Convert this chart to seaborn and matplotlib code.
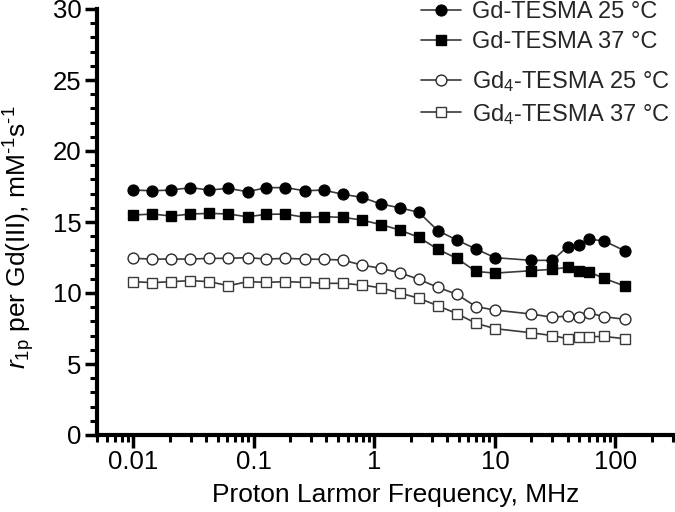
import matplotlib
matplotlib.use('Agg')
import matplotlib.pyplot as plt
import seaborn as sns
from matplotlib.ticker import FixedLocator, FixedFormatter, LogLocator, MultipleLocator, NullFormatter

# Proton Larmor frequency (MHz)
freq = [0.01, 0.0144, 0.0207, 0.0298, 0.0428, 0.0616, 0.0886, 0.127, 0.183,
        0.264, 0.379, 0.546, 0.785, 1.13, 1.62, 2.34, 3.36, 4.83, 6.95, 10,
        20, 30, 40, 50, 60, 80, 120]

gd_25 = [17.25, 17.2, 17.25, 17.42, 17.25, 17.37, 17.13, 17.42, 17.42, 17.2,
         17.25, 16.95, 16.74, 16.27, 16.0, 15.68, 14.39, 13.73, 13.1, 12.49,
         12.3, 12.3, 13.26, 13.38, 13.78, 13.68, 12.96]
gd_37 = [15.49, 15.56, 15.42, 15.56, 15.61, 15.56, 15.37, 15.54, 15.56, 15.33,
         15.37, 15.33, 15.14, 14.82, 14.44, 13.92, 13.08, 12.44, 11.52, 11.4,
         11.57, 11.67, 11.81, 11.57, 11.5, 11.03, 10.49]
gd4_25 = [12.44, 12.39, 12.39, 12.39, 12.44, 12.44, 12.49, 12.39, 12.44, 12.39,
          12.37, 12.32, 11.97, 11.74, 11.43, 10.96, 10.4, 9.91, 9.04, 8.8,
          8.52, 8.29, 8.38, 8.33, 8.61, 8.33, 8.15]
gd4_37 = [10.8, 10.73, 10.8, 10.87, 10.8, 10.51, 10.8, 10.75, 10.8, 10.75,
          10.68, 10.68, 10.56, 10.37, 10.0, 9.63, 9.1, 8.55, 7.87, 7.49,
          7.2, 7.0, 6.78, 6.92, 6.92, 6.94, 6.78]

labels = ['Gd-TESMA 25 °C', 'Gd-TESMA 37 °C',
          'Gd$_4$-TESMA 25 °C', 'Gd$_4$-TESMA 37 °C']
x_ticks = [0.01, 0.1, 1, 10, 100]
x_ticklabels = ['0.01', '0.1', '1', '10', '100']

sns.set_theme(style='ticks')
plt.rcParams['font.family'] = ['Liberation Sans', 'DejaVu Sans']
plt.rcParams['mathtext.fontset'] = 'custom'
plt.rcParams['mathtext.rm'] = 'Liberation Sans'
plt.rcParams['mathtext.it'] = 'Liberation Sans:italic'
plt.rcParams['mathtext.bf'] = 'Liberation Sans:bold'

fig = plt.figure(figsize=(6.75, 5.12), dpi=100)
ax = fig.add_axes([97 / 675, 77 / 512, 576 / 675, 426 / 512])

series = [
    (gd_25, 'o', 'black', 'black'),
    (gd_37, 's', 'black', 'black'),
    (gd4_25, 'o', 'white', '#2a2a2a'),
    (gd4_37, 's', 'white', '#3a3a3a'),
]
for (vals, mk, fc, ec), lab in zip(series, labels):
    sns.lineplot(x=freq, y=vals, marker=mk, markersize=7.8,
                 markerfacecolor=fc, markeredgecolor=ec, markeredgewidth=1.0,
                 color='#3a3a3a', linewidth=1.2, label=lab, ax=ax,
                 errorbar=None, sort=False)

ax.set_xscale('log')
ax.set_xlim(0.005, 300)
ax.set_ylim(0, 30)
ax.xaxis.set_major_locator(FixedLocator(x_ticks))
ax.xaxis.set_major_formatter(FixedFormatter(x_ticklabels))
ax.xaxis.set_minor_locator(LogLocator(base=10, subs=[2, 3, 4, 5, 6, 7, 8, 9], numticks=20))
ax.xaxis.set_minor_formatter(NullFormatter())
ax.yaxis.set_major_locator(MultipleLocator(5))
ax.yaxis.set_minor_locator(MultipleLocator(1))

for side in ['top', 'right']:
    ax.spines[side].set_visible(False)
for side in ['left', 'bottom']:
    ax.spines[side].set_linewidth(3)
    ax.spines[side].set_color('black')

ax.tick_params(which='major', direction='out', length=9, width=2.5,
               labelsize=18.5, colors='black', pad=2)
ax.tick_params(which='minor', direction='out', length=5, width=2.2, colors='black')

ax.set_xlabel('Proton Larmor Frequency, MHz', fontsize=19, color='black')
ax.set_ylabel('$\\mathit{r}_{\\mathrm{1p}}$ per Gd(III), mM$^{\\mathrm{\u20101}}$s$^{\\mathrm{\u20101}}$',
              fontsize=19, color='black')
ax.xaxis.set_label_coords(0.519, -0.112)
ax.yaxis.set_label_coords(-0.104, 0.463)

handles, labs = ax.get_legend_handles_labels()
if ax.get_legend():
    ax.get_legend().remove()
common = dict(frameon=False, fontsize=17, handlelength=1.7, handletextpad=0.47,
              borderpad=0, borderaxespad=0, labelspacing=0.33, loc='upper left',
              bbox_transform=fig.transFigure)
leg1 = ax.legend(handles[:2], labs[:2], bbox_to_anchor=(421 / 675, 1 - 1.5 / 512), **common)
ax.add_artist(leg1)
leg2 = ax.legend(handles[2:], labs[2:], bbox_to_anchor=(421 / 675, 1 - 69 / 512), **common)

fig.savefig('out.png', dpi=100)
